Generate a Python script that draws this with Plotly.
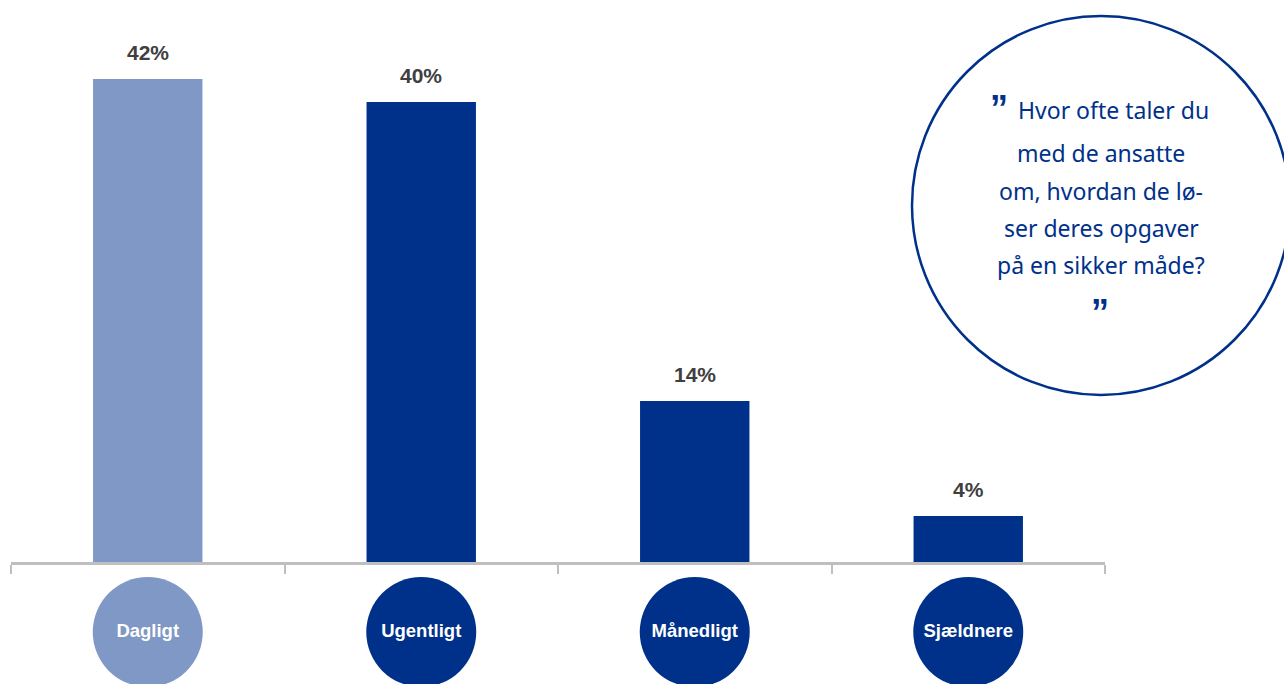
import plotly.graph_objects as go

categories = ["Dagligt", "Ugentligt", "Månedligt", "Sjældnere"]
values = [42, 40, 14, 4]
value_labels = ["42%", "40%", "14%", "4%"]
quote_lines = ["Hvor ofte taler du", "med de ansatte", "om, hvordan de lø-",
               "ser deres opgaver", "på en sikker måde?"]

LIGHT = "#7F98C5"
DARK = "#00318A"
bar_colors = [LIGHT, DARK, DARK, DARK]

W, H = 1284, 684
ML, MR = 11, 179
PW = W - ML - MR

fig = go.Figure()
fig.add_trace(go.Bar(x=categories, y=values, marker_color=bar_colors,
                     marker_line_width=0, width=0.4, xaxis="x", yaxis="y",
                     hoverinfo="skip"))
fig.add_trace(go.Scatter(x=categories, y=[0] * len(categories), mode="markers+text",
                         marker=dict(size=110, color=bar_colors, line_width=0),
                         text=["<b>%s</b>" % c for c in categories],
                         textposition="middle center",
                         textfont=dict(color="white", size=18.5, family="Liberation Sans, Arial"),
                         cliponaxis=False, xaxis="x", yaxis="y2", hoverinfo="skip"))

for c, v, t in zip(categories, values, value_labels):
    fig.add_annotation(x=c, y=v, xref="x", yref="y", text="<b>%s</b>" % t,
                       showarrow=False, yanchor="bottom", yshift=13,
                       font=dict(size=21, color="#404040", family="Liberation Sans, Arial"))

def px(x):
    return (x - ML) / PW

def py(y):
    return (H - y) / H

# quote bubble
fig.add_shape(type="circle", xref="paper", yref="paper",
              x0=px(912), x1=px(1290), y0=py(395), y1=py(16),
              line=dict(color=DARK, width=2.5), fillcolor="rgba(0,0,0,0)")

line_y = [110, 153, 191, 228, 265]
line_x = [1113, 1101, 1101, 1101, 1101]
for t, xx, yy in zip(quote_lines, line_x, line_y):
    fig.add_annotation(x=px(xx), y=py(yy), xref="paper", yref="paper", text=t,
                       showarrow=False, xanchor="center", yanchor="middle",
                       font=dict(size=23, color=DARK, family="Noto Sans"))
fig.add_annotation(x=px(999), y=py(108), xref="paper", yref="paper", text="<b>”</b>",
                   showarrow=False, xanchor="center", yanchor="middle",
                   font=dict(size=36, color=DARK, family="Liberation Sans"))
fig.add_annotation(x=px(1100), y=py(312), xref="paper", yref="paper", text="<b>”</b>",
                   showarrow=False, xanchor="center", yanchor="middle",
                   font=dict(size=36, color=DARK, family="Liberation Sans"))

base_y = 562
fig.update_layout(
    width=W, height=H,
    margin=dict(l=ML, r=MR, t=0, b=0),
    paper_bgcolor="white", plot_bgcolor="white",
    showlegend=False,
    xaxis=dict(domain=[0, 1], anchor="y", range=[-0.5, 3.5], showline=True,
               linecolor="#BFBFBF", linewidth=3, ticks="outside", tickson="boundaries",
               ticklen=9, tickwidth=2, tickcolor="#BFBFBF", showticklabels=False,
               showgrid=False, zeroline=False, fixedrange=True),
    yaxis=dict(domain=[(H - base_y) / H, 1], range=[0, base_y / 11.5], visible=False,
               showgrid=False, zeroline=False),
    yaxis2=dict(domain=[0, 2 * (H - 632) / H], range=[-1, 1], visible=False,
                showgrid=False, zeroline=False),
)

fig.write_html("out.html", config={"displayModeBar": False},
               post_script="document.body.style.margin='0';document.body.style.overflow='hidden';")
